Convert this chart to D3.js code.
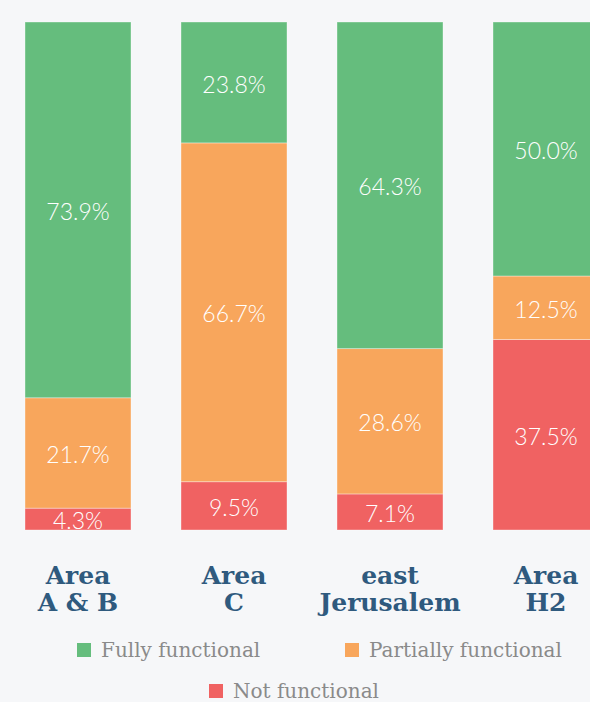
<!DOCTYPE html>
<html>
<head>
<meta charset="utf-8">
<script src="https://cdn.jsdelivr.net/npm/d3@7"></script>
<style>
  html, body { margin: 0; padding: 0; background: #f6f7f9; }
  svg { display: block; }
</style>
</head>
<body>
<svg id="chart"></svg>
<script>
// data
let categories = [["Area", "A & B"], ["Area", "C"], ["east", "Jerusalem"], ["Area", "H2"]],
    seriesNames = ["Fully functional", "Partially functional", "Not functional"],
    fully      = [73.9, 23.8, 64.3, 50.0],
    partially  = [21.7, 66.7, 28.6, 12.5],
    notFunc    = [4.3, 9.5, 7.1, 37.5],
    colors     = ["#65bd7d", "#f8a65c", "#f06262"];

let width = 590, height = 702,
    plotTop = 22, plotBottom = 530,
    rows = categories.map((c, i) => ({key: i, "Fully functional": fully[i], "Partially functional": partially[i], "Not functional": notFunc[i]})),
    // stack bottom-up: not functional at bottom
    stack = d3.stack().keys(seriesNames.slice().reverse()).offset(d3.stackOffsetExpand),
    series = stack(rows),
    xScale = d3.scaleBand().domain(d3.range(categories.length)).range([25, 599]).paddingInner(50/156).paddingOuter(0),
    yScale = d3.scaleLinear().domain([0, 1]).range([plotBottom, plotTop]),
    colorScale = d3.scaleOrdinal().domain(seriesNames).range(colors);

let svg = d3.select("#chart")
    .attr("width", width)
    .attr("height", height);

let groups = svg.selectAll("g.series")
    .data(series)
    .enter()
    .append("g")
    .attr("class", "series")
    .attr("fill", d => colorScale(d.key));

groups.selectAll("rect")
    .data(d => d)
    .enter()
    .append("rect")
    .attr("x", (d, i) => xScale(i))
    .attr("y", d => yScale(d[1]))
    .attr("width", xScale.bandwidth())
    .attr("height", d => yScale(d[0]) - yScale(d[1]))
    .attr("stroke", "rgba(255,255,255,0.45)")
    .attr("stroke-width", 0.8);

groups.selectAll("text")
    .data(d => d.map(v => ({v: v, key: d.key})))
    .enter()
    .append("text")
    .attr("x", (d, i) => xScale(i) + xScale.bandwidth()/2)
    .attr("y", d => (yScale(d.v[0]) + yScale(d.v[1]))/2)
    .attr("dy", "0.44em")
    .attr("text-anchor", "middle")
    .attr("font-family", "Lato, 'Open Sans', sans-serif")
    .attr("font-weight", 300)
    .attr("font-size", "23px")
    .attr("fill", "#fff")
    .text(d => d.v.data[d.key].toFixed(1) + "%");

// category labels
let catLabels = svg.selectAll("text.cat")
    .data(categories)
    .enter()
    .append("text")
    .attr("class", "cat")
    .attr("text-anchor", "middle")
    .attr("font-family", "'DejaVu Serif', serif")
    .attr("font-weight", "bold")
    .attr("font-size", "25px")
    .attr("fill", "#2f5a7e");

catLabels.each(function(d, ci) {
  d3.select(this).selectAll("tspan")
    .data(d)
    .enter()
    .append("tspan")
    .attr("x", xScale(ci) + xScale.bandwidth()/2)
    .attr("y", (t, i) => 584 + i*27)
    .text(t => t);
});

// legend
let legendPos = [[77, 643], [345, 643], [209, 684]];
let legend = svg.selectAll("g.legend")
    .data(seriesNames)
    .enter()
    .append("g")
    .attr("class", "legend")
    .attr("transform", (d, i) => `translate(${legendPos[i][0]},${legendPos[i][1]})`);

legend.append("rect")
    .attr("width", 14)
    .attr("height", 14)
    .attr("fill", d => colorScale(d));

legend.append("text")
    .attr("x", 24)
    .attr("y", 7)
    .attr("dy", "0.36em")
    .attr("font-family", "'DejaVu Serif', serif")
    .attr("font-size", "20px")
    .attr("fill", "#8a8a8a")
    .text(d => d);
</script>
</body>
</html>
